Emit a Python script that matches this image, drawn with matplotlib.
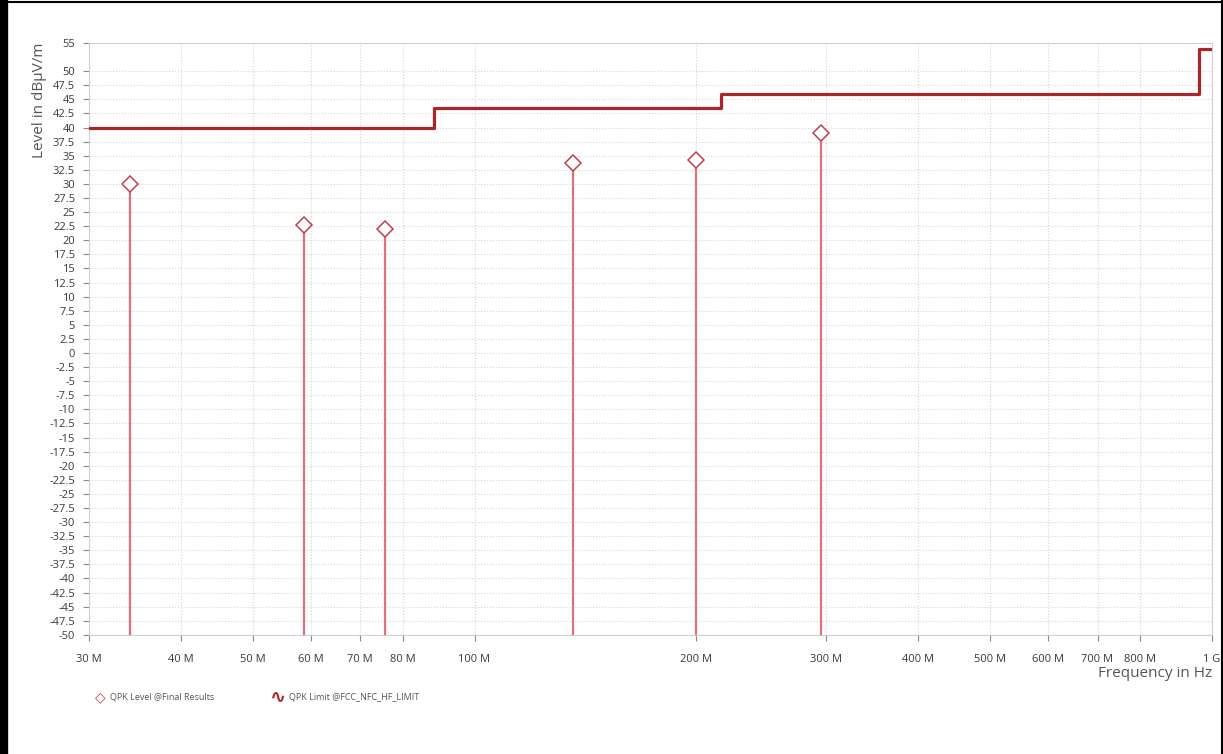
import matplotlib
matplotlib.use('Agg')
import matplotlib.pyplot as plt
from matplotlib.lines import Line2D
import numpy as np

plt.rcParams['font.family'] = ['Open Sans', 'DejaVu Sans']

# ── data ─────────────────────────────────────────────────────────────────────
qpk_freq  = [34.1e6, 58.8e6, 75.5e6, 136.2e6, 199.6e6, 295e6]
qpk_level = [30.0, 22.7, 22.0, 33.7, 34.3, 39.0]

limit_freq  = [30e6, 88e6, 216e6, 960e6, 1e9]
limit_level = [40, 43.5, 46, 54, 54]

xtick_vals   = [30e6, 40e6, 50e6, 60e6, 70e6, 80e6, 100e6, 200e6, 300e6,
                400e6, 500e6, 600e6, 700e6, 800e6, 1e9]
xtick_labels = ['30 M', '40 M', '50 M', '60 M', '70 M', '80 M', '100 M',
                '200 M', '300 M', '400 M', '500 M', '600 M', '700 M',
                '800 M', '1 G']
ytick_vals = list(np.arange(-50, 50.1, 2.5)) + [55]

LIMIT_COLOR = '#ab2529'
STEM_COLOR  = '#e0707e'
MARK_COLOR  = '#c0404e'
GRID_COLOR  = '#d4d4d4'
TXT_COLOR   = '#3a3a3a'

fig = plt.figure(figsize=(12.23, 7.54), dpi=100)
ax = fig.add_axes([0.0728, 0.158, 0.918, 0.785])

ax.set_xscale('log')
ax.set_xlim(30e6, 1e9)
ax.set_ylim(-50, 55)

# limit line
ax.step(limit_freq, limit_level, where='post', color=LIMIT_COLOR,
        linewidth=2.3, zorder=4)

# QPK stems + markers
ax.vlines(qpk_freq, -50, qpk_level, color=STEM_COLOR, linewidth=1.6, zorder=3)
ax.plot(qpk_freq, qpk_level, linestyle='none', marker='D', markersize=8.5,
        markerfacecolor='white', markeredgecolor=MARK_COLOR,
        markeredgewidth=1.1, zorder=5)

# ticks
ax.set_xticks(xtick_vals)
ax.set_xticklabels(xtick_labels)
ax.xaxis.set_minor_locator(matplotlib.ticker.NullLocator())
ax.set_yticks(ytick_vals)
ax.set_yticklabels([f'{v:g}' for v in ytick_vals])
ax.tick_params(axis='both', labelsize=8, colors='#888888', labelcolor=TXT_COLOR,
               length=4, width=0.8)
ax.tick_params(axis='x', pad=10)
ax.tick_params(axis='y', pad=6)

ax.grid(True, which='major', color=GRID_COLOR, linestyle=':', linewidth=0.8)
ax.set_axisbelow(True)
for s in ax.spines.values():
    s.set_color('#d0d0d0')
    s.set_linewidth(0.8)

ax.set_ylabel('Level in dBµV/m', fontsize=11, color='#555555', labelpad=2,
              loc='top')
fig.text(0.991, 0.107, 'Frequency in Hz', ha='right', va='center',
         fontsize=11, color='#555555')

# legend row
fig.text(0.082, 0.0755, '◇', ha='center', va='center', fontsize=10,
         color=MARK_COLOR, family=['DejaVu Sans'])
fig.text(0.090, 0.0755, 'QPK Level @Final Results', ha='left', va='center',
         fontsize=6.5, color='#555555')
fig.text(0.221, 0.0755, '∿', ha='left', va='center', fontsize=14,
         color=LIMIT_COLOR, family=['DejaVu Sans'], fontweight='bold')
fig.text(0.236, 0.0755, 'QPK Limit @FCC_NFC_HF_LIMIT', ha='left', va='center',
         fontsize=6.5, color='#555555')

# outer black frame
fig.add_artist(Line2D([0.003, 0.003], [0, 1], transform=fig.transFigure,
                      color='black', linewidth=6))
fig.add_artist(Line2D([0, 1], [0.998, 0.998], transform=fig.transFigure,
                      color='black', linewidth=1.5))
fig.add_artist(Line2D([0.999, 0.999], [0, 1], transform=fig.transFigure,
                      color='black', linewidth=1.5))

fig.savefig('out.png', dpi=100)
